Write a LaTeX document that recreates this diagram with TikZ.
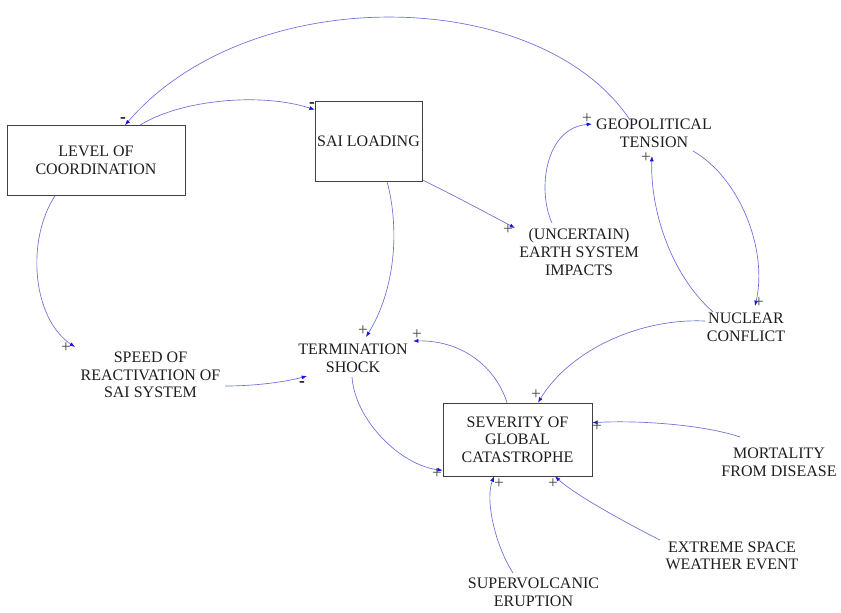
\documentclass[tikz,border=0pt]{standalone}
\usepackage{fontspec}
\setmainfont{Liberation Serif}
\usetikzlibrary{arrows.meta,calc}
\definecolor{linkline}{RGB}{110,110,215}
\definecolor{linkhead}{RGB}{20,20,235}
\definecolor{labeltext}{RGB}{30,30,30}
\definecolor{signgray}{RGB}{70,70,70}
\begin{document}
\begin{tikzpicture}[x=0.75pt,y=-0.75pt,
  every node/.style={font=\fontsize{12}{13.2}\selectfont, text=labeltext},
  var/.style={align=center, inner sep=0pt},
  stock/.style={draw=black!75, line width=0.5pt, align=center, inner sep=0pt},
  link/.style={draw=linkline, line width=0.5pt,
    -{Latex[length=4pt,width=3pt,color=linkhead]}},
  plus/.style={text=signgray, inner sep=0pt, font=\fontsize{13}{13}\selectfont},
  minus/.style={text=black, inner sep=0pt, font=\fontsize{13}{13}\selectfont\bfseries}]
\path[use as bounding box] (0,0) rectangle (841,612);

% stocks (boxed variables)
\node[stock, minimum width=133.5pt, minimum height=52.5pt] (loc) at (96,160.5) {LEVEL OF\\COORDINATION};
\node[stock, minimum width=80.25pt, minimum height=60pt] (sai) at (368.5,141) {SAI LOADING};
\node[stock, minimum width=111.75pt, minimum height=54.75pt] (sev) at (517.5,439.5) {SEVERITY OF\\GLOBAL\\CATASTROPHE};

% auxiliary variables
\node[var] (geo) at (654,133) {GEOPOLITICAL\\TENSION};
\node[var] (esi) at (579,252) {(UNCERTAIN)\\EARTH SYSTEM\\IMPACTS};
\node[var] (nc) at (746,327) {NUCLEAR\\CONFLICT};
\node[var] (ts) at (353,358) {TERMINATION\\SHOCK};
\node[var] (speed) at (150.5,375) {SPEED OF\\REACTIVATION OF\\SAI SYSTEM};
\node[var] (mort) at (779,462) {MORTALITY\\FROM DISEASE};
\node[var] (esw) at (732,556) {EXTREME SPACE\\WEATHER EVENT};
\node[var] (svc) at (533.5,592) {SUPERVOLCANIC\\ERUPTION};

% causal links
\draw[link] ($(geo.center)+(-24,-13)$) .. controls (540,-15) and (250,-20) .. ($(loc.north)+(29,0)$);
\draw[link] ($(loc.north)+(44,0)$) .. controls (180,100) and (260,92) .. ($(sai.north west)+(0,9)$);
\draw[link] ($(sai.south east)+(1,-1)$) .. controls (455,196) and (485,212) .. ($(esi.center)+(-64,-24)$);
\draw[link] ($(esi.center)+(-27,-29)$) .. controls (537,190) and (545,128) .. ($(geo.center)+(-62,-9)$);
\draw[link] ($(nc.center)+(-33,-15)$) .. controls (668,272) and (650,205) .. ($(geo.center)+(-2,23)$);
\draw[link] ($(geo.center)+(39,18)$) .. controls (740,178) and (768,250) .. ($(nc.center)+(9,-21)$);
\draw[link] ($(loc.south)+(-41,0)$) .. controls (26,240) and (32,318) .. ($(speed.center)+(-75.5,-28)$);
\draw[link] ($(sai.south)+(18.5,0)$) .. controls (400,230) and (395,290) .. ($(ts.center)+(13,-21)$);
\draw[link] ($(speed.center)+(74.5,11)$) .. controls (255,386) and (285,382) .. ($(ts.center)+(-46,18)$);
\draw[link] ($(ts.center)+(-1,19)$) .. controls (355,420) and (400,465) .. ($(sev.south west)+(0,-6)$);
\draw[link] ($(sev.north)+(-10.5,0)$) .. controls (495,365) and (460,340) .. ($(ts.center)+(60,-17)$);
\draw[link] ($(nc.center)+(-41,-6)$) .. controls (640,318) and (570,350) .. ($(sev.north)+(20.5,0)$);
\draw[link] ($(mort.center)+(-39,-25)$) .. controls (705,425) and (640,420) .. ($(sev.north east)+(0,20)$);
\draw[link] ($(esw.center)+(-72,-16)$) .. controls (630,525) and (575,495) .. ($(sev.south)+(37.5,0)$);
\draw[link] ($(svc.center)+(-20.5,-19)$) .. controls (495,545) and (485,500) .. ($(sev.south)+(-23.5,0)$);

% link polarities
\node[minus] (s1) at (123,120) {-};
\node[minus] (s2) at (312,105) {-};
\node[plus] (s3) at (508,230) {+};
\node[plus] (s4) at (587,119) {+};
\node[plus] (s5) at (646,158) {+};
\node[plus] (s6) at (759,303) {+};
\node[plus] (s7) at (66,348) {+};
\node[plus] (s8) at (363,331) {+};
\node[minus] (s9) at (302,384) {-};
\node[plus] (s10) at (437,474) {+};
\node[plus] (s11) at (417,335) {+};
\node[plus] (s12) at (536,395) {+};
\node[plus] (s13) at (597,427) {+};
\node[plus] (s14) at (553,484) {+};
\node[plus] (s15) at (499,484) {+};
\end{tikzpicture}
\end{document}
